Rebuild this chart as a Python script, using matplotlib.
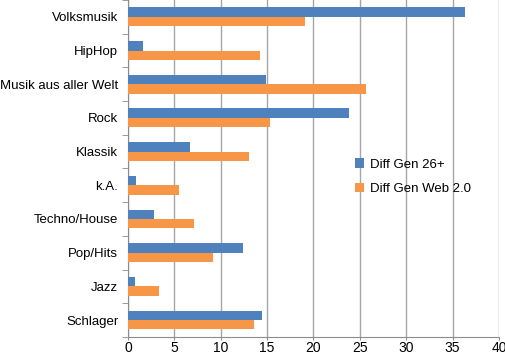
import matplotlib
matplotlib.use("Agg")
import matplotlib.pyplot as plt
import numpy as np

plt.rcParams['font.family'] = ['Liberation Sans', 'DejaVu Sans']

# Daten (von oben nach unten)
categories = ["Volksmusik", "HipHop", "Musik aus aller Welt", "Rock", "Klassik",
              "k.A.", "Techno/House", "Pop/Hits", "Jazz", "Schlager"]
gen26 = [36.3, 1.6, 14.9, 23.8, 6.7, 0.9, 2.8, 12.4, 0.7, 14.4]
web20 = [19.1, 14.2, 25.7, 15.3, 13.1, 5.5, 7.1, 9.2, 3.3, 13.6]
series_labels = ["Diff Gen 26+", "Diff Gen Web 2.0"]
xticks = [0, 5, 10, 15, 20, 25, 30, 35, 40]

fig = plt.figure(figsize=(5.06, 3.58), dpi=100)
ax = fig.add_axes([0.253, 0.059, 0.733, 0.941])

y = np.arange(len(categories))
h = 0.28
ax.barh(y - h / 2, gen26, height=h, color="#4F81BD", label=series_labels[0], zorder=3)
ax.barh(y + h / 2, web20, height=h, color="#F79646", label=series_labels[1], zorder=3)

ax.set_ylim(len(categories) - 0.5, -0.5)
ax.set_xlim(0, 40)
ax.set_xticks(xticks)
ax.set_yticks(y)
ax.set_yticklabels(categories)
ax.set_yticks(np.arange(len(categories) + 1) - 0.5, minor=True)
ax.tick_params(axis='y', which='major', length=0, labelsize=9.5, pad=7)
ax.tick_params(axis='y', which='minor', length=4, color="#8c8c8c")
ax.tick_params(axis='x', length=2, color="#8c8c8c", labelsize=10, pad=1)

ax.grid(axis='x', color="#a6a6a6", linewidth=1, zorder=0)
for s in ['top', 'right']:
    ax.spines[s].set_visible(False)
for s in ['left', 'bottom']:
    ax.spines[s].set_color("#8c8c8c")

ax.legend(loc='center left', bbox_to_anchor=(0.58, 0.475), frameon=False,
          fontsize=9.5, handlelength=0.7, handleheight=0.7, handletextpad=0.4,
          labelspacing=0.95)

fig.savefig("out.png", dpi=100)
